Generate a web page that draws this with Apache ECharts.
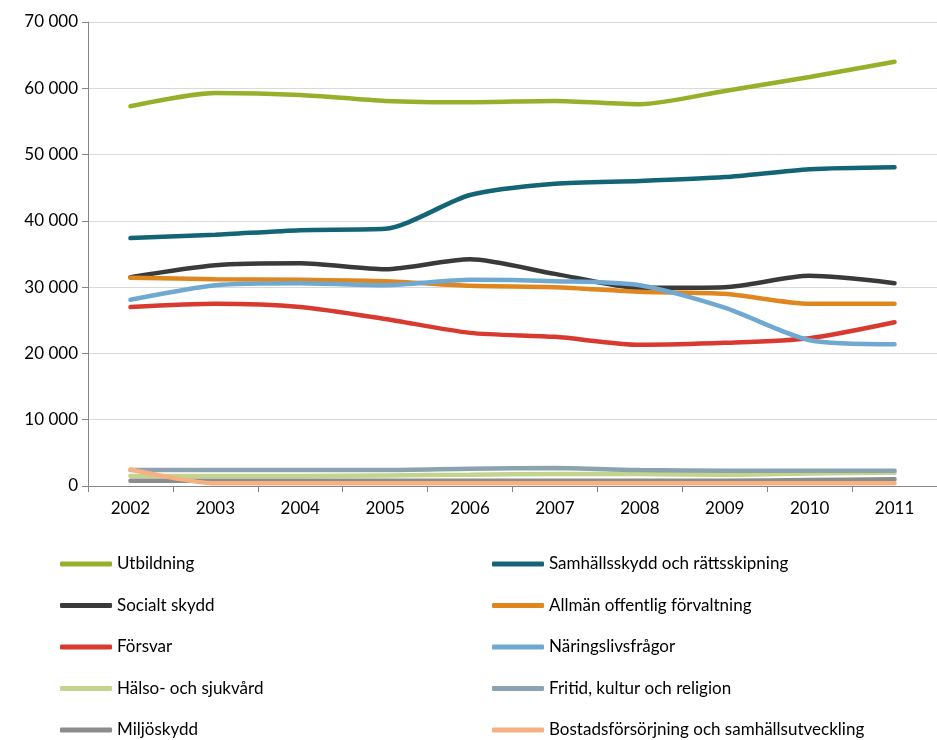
<!DOCTYPE html>
<html>
<head>
<meta charset="utf-8">
<script src="https://cdn.jsdelivr.net/npm/echarts@6/dist/echarts.min.js"></script>
<style>
  html, body { margin: 0; padding: 0; background: #fff; }
  #main { width: 937px; height: 740px; }
</style>
</head>
<body>
<div id="main"></div>
<script>
// kategorier (år)
const years = ['2002', '2003', '2004', '2005', '2006', '2007', '2008', '2009', '2010', '2011'];

// serievärden
const utbildning    = [57300, 59300, 59000, 58100, 57900, 58100, 57600, 59600, 61700, 64000];
const samhallsskydd = [37400, 37900, 38600, 38800, 43900, 45600, 46000, 46600, 47800, 48100];
const socialt       = [31500, 33300, 33600, 32700, 34200, 32000, 29900, 30000, 31700, 30600];
const allman        = [31400, 31200, 31100, 30900, 30200, 30000, 29300, 29000, 27500, 27500];
const forsvar       = [27000, 27500, 27000, 25200, 23100, 22500, 21300, 21600, 22300, 24700];
const naringsliv    = [28100, 30300, 30600, 30300, 31100, 30900, 30300, 26900, 22000, 21400];
const halso         = [1500, 1500, 1500, 1600, 1700, 1800, 1800, 1700, 1900, 2000];
const fritid        = [2400, 2400, 2400, 2400, 2600, 2700, 2400, 2300, 2300, 2300];
const miljo         = [800, 800, 800, 800, 800, 800, 800, 800, 900, 1000];
const bostad        = [2500, 400, 400, 400, 400, 400, 400, 400, 400, 400];

const seriesDefs = [
  { name: 'Utbildning', data: utbildning, color: '#97b02a' },
  { name: 'Samhällsskydd och rättsskipning', data: samhallsskydd, color: '#136576' },
  { name: 'Socialt skydd', data: socialt, color: '#3a3a3a' },
  { name: 'Allmän offentlig förvaltning', data: allman, color: '#e0861e' },
  { name: 'Försvar', data: forsvar, color: '#d83a2f' },
  { name: 'Näringslivsfrågor', data: naringsliv, color: '#6fa8d0' },
  { name: 'Hälso- och sjukvård', data: halso, color: '#c3d48c' },
  { name: 'Fritid, kultur och religion', data: fritid, color: '#8ba3b0' },
  { name: 'Miljöskydd', data: miljo, color: '#8c8c8c' },
  { name: 'Bostadsförsörjning och samhällsutveckling', data: bostad, color: '#f6b183' }
];

const font = 'Lato, "Open Sans", sans-serif';

const legendBase = {
  orient: 'vertical',
  top: 554,
  height: 186,
  padding: 0,
  itemWidth: 52,
  itemHeight: 5,
  itemGap: 21.5,
  icon: 'roundRect',
  textStyle: { fontFamily: font, fontSize: 17, color: '#000', lineHeight: 20 }
};

let myChart = echarts.init(document.getElementById('main'));
myChart.setOption({
  animation: false,
  grid: { left: 88, top: 22, width: 858, height: 464 },
  legend: [
    Object.assign({}, legendBase, { left: 60, data: seriesDefs.filter((s, i) => i % 2 === 0).map(s => s.name) }),
    Object.assign({}, legendBase, { left: 492, data: seriesDefs.filter((s, i) => i % 2 === 1).map(s => s.name) })
  ],
  xAxis: {
    type: 'category',
    data: years,
    boundaryGap: true,
    axisLine: { lineStyle: { color: '#868686', width: 1 } },
    axisTick: { show: true, length: 6, lineStyle: { color: '#868686' } },
    axisLabel: { fontFamily: font, fontSize: 17, color: '#000', margin: 14 }
  },
  yAxis: {
    type: 'value',
    min: 0,
    max: 70000,
    interval: 10000,
    axisLine: { show: true, lineStyle: { color: '#868686', width: 1 } },
    axisTick: { show: true, length: 6, lineStyle: { color: '#868686' } },
    axisLabel: {
      fontFamily: font, fontSize: 17, color: '#000', margin: 10,
      formatter: v => v === 0 ? '0' : String(v).replace(/\B(?=(\d{3})+(?!\d))/g, ' ')
    },
    splitLine: { lineStyle: { color: '#d9d9d9', width: 1 } }
  },
  series: seriesDefs.map(s => ({
    name: s.name,
    type: 'line',
    data: s.data,
    smooth: 0.25,
    showSymbol: false,
    color: s.color,
    lineStyle: { width: 4.5, color: s.color, cap: 'round' }
  }))
});
</script>
</body>
</html>
